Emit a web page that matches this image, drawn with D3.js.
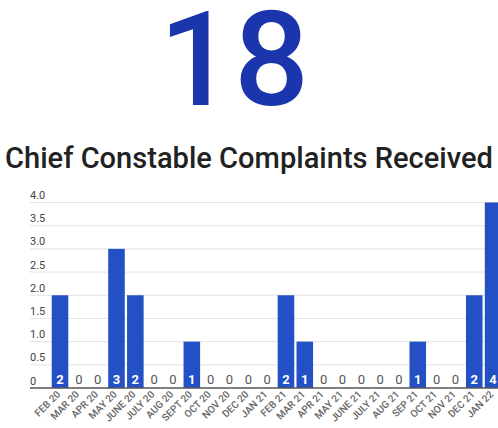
<!DOCTYPE html>
<html>
<head>
<meta charset="utf-8">
<script src="https://cdn.jsdelivr.net/npm/d3@7"></script>
<style>
  html, body { margin: 0; padding: 0; background: #fff; overflow: hidden; }
  svg { display: block; }
</style>
</head>
<body>
<svg id="chart" width="498" height="428"></svg>
<script>
const totalLabel = "18";
const chartTitle = "Chief Constable Complaints Received";
const categories = ["FEB 20","MAR 20","APR 20","MAY 20","JUNE 20","JULY 20","AUG 20","SEPT 20","OCT 20","NOV 20","DEC 20","JAN 21","FEB 21","MAR 21","APR 21","MAY 21","JUNE 21","JULY 21","AUG 21","SEP 21","OCT 21","NOV 21","DEC 21","JAN 22"];
const values = [2,0,0,3,2,0,0,1,0,0,0,0,2,1,0,0,0,0,0,1,0,0,2,4];
const yTicks = [0,0.5,1,1.5,2,2.5,3,3.5,4];

const svg = d3.select("#chart");
const font = "Roboto, 'Noto Sans', sans-serif";

svg.append("text")
  .attr("x", 234).attr("y", 105)
  .attr("text-anchor", "middle")
  .attr("font-family", font)
  .attr("font-size", 132)
  .attr("font-weight", 500)
  .attr("fill", "#1b36ad")
  .text(totalLabel);

const title = svg.append("text")
  .attr("x", 249).attr("y", 168)
  .attr("text-anchor", "middle")
  .attr("font-family", font)
  .attr("font-size", 28)
  .attr("font-weight", 500)
  .attr("fill", "#222")
  .text(chartTitle);
const tw = title.node().getComputedTextLength();
title.attr("font-size", 28 * 488 / tw);

const x = d3.scaleBand().domain(categories).range([50.6, 502.5]).paddingInner(0.12).paddingOuter(0.06);
const y = d3.scaleLinear().domain([0, 4]).range([388, 202.5]);

svg.append("g").selectAll("line").data(yTicks.filter(t => t > 0)).join("line")
  .attr("x1", 30).attr("x2", 498)
  .attr("y1", d => y(d)).attr("y2", d => y(d))
  .attr("stroke", "#e3e3e3").attr("stroke-width", 1);

svg.append("g").selectAll("text").data(yTicks).join("text")
  .attr("x", 30).attr("y", d => y(d) - 3.5)
  .attr("font-family", font).attr("font-size", 11)
  .attr("fill", "#444")
  .text(d => d === 0 ? "0" : d3.format(".1f")(d));

svg.append("g").selectAll("rect").data(values).join("rect")
  .attr("x", (d, i) => x(categories[i]))
  .attr("width", x.bandwidth())
  .attr("y", d => y(d))
  .attr("height", d => y(0) - y(d))
  .attr("fill", "#2350c4");

svg.append("line")
  .attr("x1", 30).attr("x2", 498)
  .attr("y1", y(0)).attr("y2", y(0))
  .attr("stroke", "#555").attr("stroke-width", 1.6);

svg.append("g").selectAll("text").data(values).join("text")
  .attr("x", (d, i) => x(categories[i]) + x.bandwidth() / 2)
  .attr("y", y(0) - 4.5)
  .attr("text-anchor", "middle")
  .attr("font-family", font).attr("font-size", 13)
  .attr("font-weight", d => d > 0 ? "bold" : "normal")
  .attr("fill", d => d > 0 ? "#fff" : "#555")
  .text(d => d);

svg.append("g").selectAll("text").data(categories).join("text")
  .attr("transform", d => `translate(${x(d) + x.bandwidth() / 2 + 1},${y(0) + 7}) rotate(-45)`)
  .attr("text-anchor", "end")
  .attr("font-family", font).attr("font-size", 10)
  .attr("font-weight", 500)
  .attr("fill", "#666")
  .text(d => d);
</script>
</body>
</html>
